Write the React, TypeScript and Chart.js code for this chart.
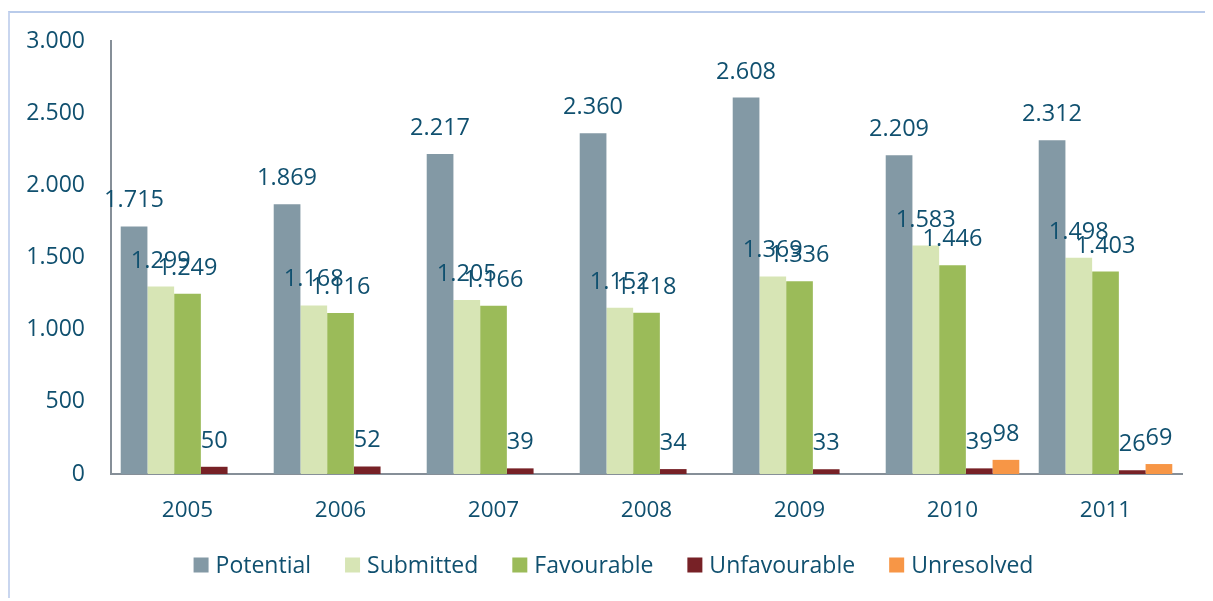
import React, { useEffect, useRef } from "react";
import { Chart, registerables } from "chart.js";

Chart.register(...registerables);

const categories = ["2005", "2006", "2007", "2008", "2009", "2010", "2011"];
const potential = [1715, 1869, 2217, 2360, 2608, 2209, 2312];
const submitted = [1299, 1168, 1205, 1152, 1369, 1583, 1498];
const favourable = [1249, 1116, 1166, 1118, 1336, 1446, 1403];
const unfavourable = [50, 52, 39, 34, 33, 39, 26];
const unresolved = [null, null, null, null, null, 98, 69];
const seriesNames = ["Potential", "Submitted", "Favourable", "Unfavourable", "Unresolved"];
const seriesColors = ["#8399A5", "#D7E5B5", "#9BBB59", "#772126", "#F79646"];
const yTicks = [0, 500, 1000, 1500, 2000, 2500, 3000];

const TEXT = "#10506F";
const FONT = "'Open Sans', sans-serif";

const fmt = (v: number) => String(Math.round(v)).replace(/\B(?=(\d{3})+(?!\d))/g, ".");

const labelPlugin = {
  id: "valueLabels",
  afterDatasetsDraw(chart: any) {
    const ctx = chart.ctx;
    ctx.save();
    ctx.font = `23.5px ${FONT}`;
    ctx.fillStyle = TEXT;
    ctx.textAlign = "center";
    ctx.textBaseline = "alphabetic";
    chart.data.datasets.forEach((ds: any, di: number) => {
      const meta = chart.getDatasetMeta(di);
      meta.data.forEach((bar: any, i: number) => {
        const v = ds.data[i];
        if (v === null || v === undefined) return;
        ctx.fillText(fmt(v), bar.x, bar.y - 19);
      });
    });
    ctx.restore();
  },
};

const legendPlugin = {
  id: "customLegend",
  afterDraw(chart: any) {
    const ctx = chart.ctx;
    ctx.save();
    ctx.font = `23px ${FONT}`;
    const box = 15;
    const gapBox = 7;
    const gapItem = 34;
    const widths = seriesNames.map((n) => ctx.measureText(n).width);
    const total =
      widths.reduce((a, w) => a + box + gapBox + w, 0) + gapItem * (seriesNames.length - 1);
    let x = chart.width / 2 - total / 2 + 4;
    const cy = 552;
    ctx.textBaseline = "middle";
    ctx.textAlign = "left";
    seriesNames.forEach((n, i) => {
      ctx.fillStyle = seriesColors[i];
      ctx.fillRect(x, cy - box / 2, box, box);
      x += box + gapBox;
      ctx.fillStyle = TEXT;
      ctx.fillText(n, x, cy + 1);
      x += widths[i] + gapItem;
    });
    ctx.restore();
  },
};

export default function App() {
  const ref = useRef<HTMLCanvasElement>(null);
  useEffect(() => {
    if (!ref.current) return;
    const series = [potential, submitted, favourable, unfavourable, unresolved];
    const chart = new Chart(ref.current, {
      type: "bar",
      data: {
        labels: categories,
        datasets: series.map((d, i) => ({
          label: seriesNames[i],
          data: d as any,
          backgroundColor: seriesColors[i],
          borderWidth: 0,
          categoryPercentage: 0.873,
          barPercentage: 1,
        })),
      },
      options: {
        responsive: false,
        animation: false,
        layout: { padding: { top: 28, left: 0, right: 27, bottom: 67 } },
        plugins: {
          legend: { display: false },
          tooltip: { enabled: false },
        },
        scales: {
          x: {
            grid: { display: false, drawTicks: false },
            border: { display: true, color: "#868F98", width: 2 },
            ticks: {
              color: TEXT,
              font: { family: FONT, size: 22.5 },
              padding: 23,
            },
            afterFit: (s: any) => {
              s.height = 60;
              s.paddingLeft = 0;
              s.paddingRight = 0;
            },
          },
          y: {
            min: 0,
            max: 3000,
            grid: { display: false, drawTicks: false },
            border: { display: true, color: "#868F98", width: 2 },
            afterBuildTicks: (s: any) => {
              s.ticks = yTicks.map((v) => ({ value: v }));
            },
            ticks: {
              color: TEXT,
              font: { family: FONT, size: 23 },
              padding: 26,
              callback: (v: any) => fmt(Number(v)),
            },
            afterFit: (s: any) => {
              s.width = 101;
              s.paddingTop = 0;
              s.paddingBottom = 0;
            },
          },
        },
      },
      plugins: [labelPlugin, legendPlugin],
    });
    return () => chart.destroy();
  }, []);

  return (
    <div
      style={{
        position: "relative",
        top: 3,
        width: 1203,
        height: 590,
        boxSizing: "border-box",
        borderTop: "2px solid #B9CBEA",
        borderLeft: "2px solid #C9D6EF",
        borderRight: "2px solid #C9D6EF",
        background: "#fff",
      }}
    >
      <canvas ref={ref} width={1199} height={588} style={{ display: "block" }} />
    </div>
  );
}
